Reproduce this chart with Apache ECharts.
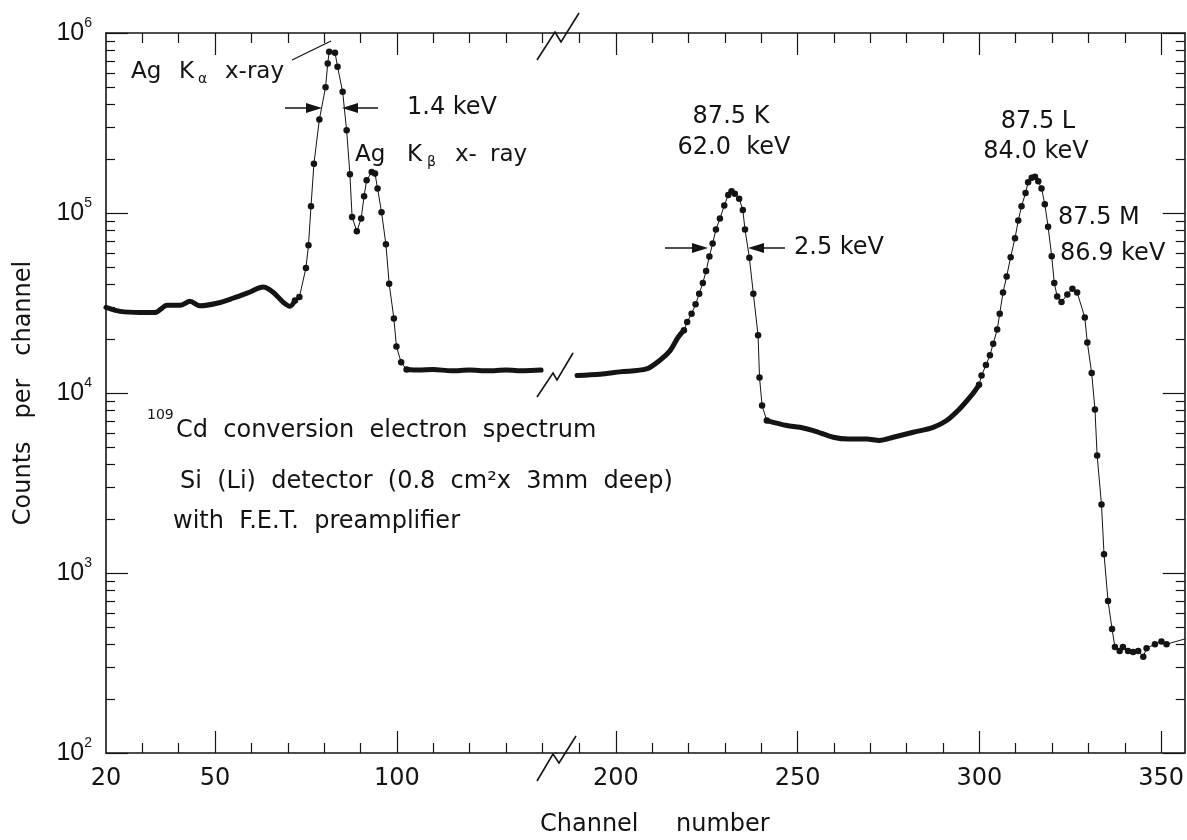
<!DOCTYPE html>
<html>
<head>
<meta charset="utf-8">
<script src="https://cdn.jsdelivr.net/npm/echarts@6.0.0/dist/echarts.min.js"></script>
<style>
html, body { margin: 0; padding: 0; background: #fff; }
#chart { width: 1187px; height: 840px; }
</style>
</head>
<body>
<div id="chart"></div>
<script>
// [channel number, counts per channel]
const agLowBase = [[20, 29900], [23.9, 28400], [29.4, 28000], [33.5, 28000], [36.8, 30700], [40.4, 30700], [43.1, 32300], [45.9, 30500], [50.5, 31500], [54.9, 33600], [59.6, 36400], [63.2, 38800], [65.9, 36400], [68.7, 32000], [70.6, 30300], [72.0, 32700]];
const agXrayPeaks = [[72.0, 32700], [73.2, 34100], [75.0, 49500], [75.7, 66200], [76.4, 109000], [77.2, 188000], [78.7, 331000], [80.4, 499000], [81.0, 678000], [81.4, 787000], [83.0, 777000], [83.7, 650000], [85.1, 471000], [86.2, 288000], [87.1, 164000], [87.7, 95100], [89.0, 79100], [90.2, 93100], [91.0, 124000], [91.7, 152000], [93.1, 169000], [94.0, 166000], [94.7, 137000], [95.8, 101000], [97.0, 67000], [97.9, 40500], [99.2, 25900], [99.9, 18100], [101.2, 14800], [102.7, 13500]];
const agFlat = [[102.7, 13500], [106, 13400], [110, 13500], [115, 13300], [120, 13400], [125, 13300], [130, 13400], [135, 13300], [139.7, 13400]];

const kLowBase = [[189.3, 12500], [195.6, 12700], [201.1, 13100], [208.4, 13600], [212.1, 15200], [214.9, 17200], [217.1, 20400], [218.7, 22300]];
const kLinePeak = [[218.7, 22300], [219.6, 24800], [220.8, 27600], [221.9, 31100], [222.9, 35600], [223.9, 40900], [224.8, 47600], [225.7, 57400], [226.6, 67600], [227.5, 80900], [228.6, 93100], [229.8, 110000], [230.9, 126000], [231.8, 132000], [232.7, 128000], [233.9, 120000], [234.9, 104000], [235.5, 80900], [236.7, 56500], [237.8, 35600], [239.1, 20900], [239.5, 12200], [240.2, 8510], [241.5, 7030]];
const kValley = [[241.5, 7030], [247.0, 6600], [250.6, 6450], [254.3, 6180], [259.8, 5680], [264.0, 5550], [269.0, 5560], [272.5, 5450], [276.3, 5680], [281.8, 6050], [287.3, 6450], [291.0, 7030], [294.6, 8170], [297.4, 9480], [298.8, 10300], [299.9, 11100]];
const lmLinePeaks = [[299.9, 11100], [300.6, 12500], [301.8, 14300], [302.9, 16200], [303.8, 18800], [304.9, 22500], [305.6, 27600], [306.5, 36200], [307.5, 44400], [308.6, 56800], [309.8, 72500], [310.7, 90800], [311.6, 109000], [312.7, 129000], [313.4, 148000], [314.4, 157000], [315.3, 159000], [316.2, 150000], [317.1, 137000], [318.0, 112000], [318.9, 84000], [319.9, 57500], [320.6, 40900], [321.4, 34400], [322.6, 32000], [324.2, 35300], [325.6, 37900], [326.9, 36200], [329.0, 26300], [329.7, 19100], [330.9, 12900], [331.8, 8110], [332.4, 4500], [333.6, 2400], [334.3, 1270], [335.4, 698], [336.5, 489], [337.3, 388], [338.6, 369], [339.5, 388], [340.9, 369], [342.3, 364], [343.7, 369], [345.1, 343], [346.0, 382], [348.3, 402], [350.1, 417], [351.5, 402]];
const lmTail = [[351.5, 402], [356.5, 430]];

// axis ranges either side of the break, and ticks
const leftRange = [20, 143.8];
const rightRange = [183.5, 356.5];
const leftTicks = [30, 40, 60, 70, 80, 90, 110, 120, 130, 140];
const leftMajorTicks = [50, 100];
const leftLabels = [20, 50, 100];
const rightTicks = [190, 210, 220, 230, 240, 260, 270, 280, 290, 310, 320, 330, 340];
const rightMajorTicks = [200, 250, 300, 350];
const rightLabels = [200, 250, 300, 350];
const decades = [100, 1000, 10000, 100000, 1000000];
const minorY = [200, 300, 400, 500, 600, 700, 800, 900,
  2000, 3000, 4000, 5000, 6000, 7000, 8000, 9000,
  20000, 30000, 40000, 50000, 60000, 70000, 80000, 90000,
  200000, 300000, 400000, 500000, 600000, 700000, 800000, 900000];

const FONT = '"DejaVu Sans", sans-serif';
const NUM_FONT = '"Liberation Sans", Arial, sans-serif';
const INK = '#141414';
const PX_PER_CH = 3.635;
const TOP = 33, PLOT_H = 720, LEFT = 106;
const leftW = (leftRange[1] - leftRange[0]) * PX_PER_CH;
const rightW = (rightRange[1] - rightRange[0]) * PX_PER_CH;

function xAxesFor(grid, range, ticks, majors, labels) {
  const base = { gridIndex: grid, type: 'value', min: range[0], max: range[1], splitLine: { show: false } };
  const out = [];
  ['bottom', 'top'].forEach(pos => {
    out.push(Object.assign({}, base, {
      position: pos,
      axisLine: { show: true, onZero: false, lineStyle: { color: INK, width: 1.6 } },
      axisTick: { show: true, inside: true, length: 10, customValues: ticks, lineStyle: { color: INK, width: 1.2 } },
      axisLabel: pos === 'bottom'
        ? { show: true, customValues: labels, margin: 14, color: INK, fontSize: 24, fontFamily: FONT }
        : { show: false }
    }));
    out.push(Object.assign({}, base, {
      position: pos,
      axisLine: { show: false },
      axisTick: { show: true, inside: true, length: 22, customValues: majors, lineStyle: { color: INK, width: 1.2 } },
      axisLabel: { show: false }
    }));
  });
  return out;
}

function yAxesFor(grid, pos, withLabels) {
  const base = { gridIndex: grid, type: 'log', logBase: 10, min: 100, max: 1000000, position: pos, splitLine: { show: false } };
  return [
    Object.assign({}, base, {
      axisLine: { show: true, lineStyle: { color: INK, width: 1.6 } },
      axisTick: { show: true, inside: true, length: 22, customValues: decades, lineStyle: { color: INK, width: 1.2 } },
      axisLabel: withLabels ? {
        show: true, customValues: decades, margin: 14,
        formatter: v => '{b|10}{e|' + Math.round(Math.log10(v)) + '}',
        rich: {
          b: { fontSize: 25, fontFamily: NUM_FONT, color: INK, lineHeight: 34 },
          e: { fontSize: 14, fontFamily: NUM_FONT, color: INK, verticalAlign: 'top' }
        }
      } : { show: false },
      name: withLabels ? 'Counts   per   channel' : '',
      nameLocation: 'middle', nameGap: 70, nameRotate: 90,
      nameTextStyle: { fontSize: 24, fontFamily: FONT, color: INK }
    }),
    Object.assign({}, base, {
      axisLine: { show: false },
      axisTick: { show: true, inside: true, length: 9, customValues: minorY, lineStyle: { color: INK, width: 1.2 } },
      axisLabel: { show: false }
    })
  ];
}

function dense(data, xi, yi) {
  return { type: 'line', xAxisIndex: xi, yAxisIndex: yi, data: data, symbol: 'none', smooth: 0.3,
    lineStyle: { color: INK, width: 5, cap: 'round', join: 'round' }, silent: true, z: 3 };
}
function dotted(data, xi, yi) {
  return { type: 'line', xAxisIndex: xi, yAxisIndex: yi, data: data, symbol: 'circle', symbolSize: 6.5,
    showAllSymbol: true, itemStyle: { color: INK }, lineStyle: { color: INK, width: 1 }, silent: true, z: 4 };
}

function text(str, x, y, opts) {
  return { type: 'text', x: x, y: y, silent: true, z: 50,
    style: Object.assign({ text: str, fill: INK, font: '23px ' + FONT, align: 'left', verticalAlign: 'middle',
      textAlign: 'left', textVerticalAlign: 'middle' }, opts || {}) };
}
function centred(str, x, y) {
  return text(str, x, y, { font: '24px ' + FONT, align: 'center', textAlign: 'center' });
}
function small(str, x, y) {
  return text(str, x, y, { font: '14px ' + FONT });
}
function arrow(x1, x2, y) {
  const dir = x2 > x1 ? 1 : -1;
  return [
    { type: 'line', silent: true, z: 50, shape: { x1: x1, y1: y, x2: x2 - dir * 10, y2: y }, style: { stroke: INK, lineWidth: 1.5 } },
    { type: 'polygon', silent: true, z: 50, shape: { points: [[x2, y], [x2 - dir * 16, y - 5], [x2 - dir * 16, y + 5]] }, style: { fill: INK } }
  ];
}
function zigzag(pts) {
  return { type: 'polyline', silent: true, z: 60, shape: { points: pts }, style: { stroke: INK, lineWidth: 1.6, fill: null } };
}

const chart = echarts.init(document.getElementById('chart'));
chart.setOption({
  backgroundColor: '#ffffff',
  animation: false,
  grid: [
    { left: LEFT, top: TOP, width: leftW, height: PLOT_H },
    { left: LEFT + leftW, top: TOP, width: rightW, height: PLOT_H }
  ],
  xAxis: xAxesFor(0, leftRange, leftTicks, leftMajorTicks, leftLabels)
    .concat(xAxesFor(1, rightRange, rightTicks, rightMajorTicks, rightLabels)),
  yAxis: yAxesFor(0, 'left', true).concat(yAxesFor(1, 'right', false)),
  series: [
    dense(agLowBase, 0, 0),
    dotted(agXrayPeaks, 0, 0),
    dense(agFlat, 0, 0),
    dense(kLowBase, 4, 2),
    dotted(kLinePeak, 4, 2),
    dense(kValley, 4, 2),
    dotted(lmLinePeaks, 4, 2),
    { type: 'line', xAxisIndex: 4, yAxisIndex: 2, data: lmTail, symbol: 'none', lineStyle: { color: INK, width: 1 }, silent: true }
  ],
  graphic: [
    // Ag K x-ray labels, pointer and width marker
    text('Ag', 131, 72), text('K', 179, 72), small('α', 198, 79), text('x-ray', 225, 72),
    { type: 'line', silent: true, z: 50, shape: { x1: 292, y1: 60, x2: 331, y2: 41 }, style: { stroke: INK, lineWidth: 1.3 } },
    ...arrow(285, 322, 108),
    ...arrow(378, 342, 108),
    text('1.4 keV', 407, 108, { font: '24px ' + FONT }),
    text('Ag', 355, 155), text('K', 407, 155), small('β', 427, 162), text('x-', 455, 155), text('ray', 490, 155),
    // 87.5 keV gamma conversion lines
    centred('87.5 K', 731, 117),
    centred('62.0  keV', 734, 148),
    ...arrow(665, 708, 248),
    ...arrow(785, 748, 248),
    text('2.5 keV', 794, 248, { font: '24px ' + FONT }),
    centred('87.5 L', 1038, 122),
    centred('84.0 keV', 1036, 152),
    text('87.5 M', 1058, 218, { font: '24px ' + FONT }),
    text('86.9 keV', 1060, 254, { font: '24px ' + FONT }),
    // description block
    small('109', 147, 415),
    text('Cd  conversion  electron  spectrum', 176, 431, { font: '24px ' + FONT }),
    text('Si  (Li)  detector  (0.8  cm²x  3mm  deep)', 180, 482, { font: '24px ' + FONT }),
    text('with  F.E.T.  preamplifier', 173, 522, { font: '24px ' + FONT }),
    // x axis title
    text('Channel', 540, 825, { font: '24px ' + FONT }),
    text('number', 676, 825, { font: '24px ' + FONT }),
    // axis break marks
    zigzag([[537, 60], [555, 32], [561, 42], [579, 13]]),
    zigzag([[537, 781], [553, 754], [559, 763], [576, 736]]),
    zigzag([[537, 397], [553, 373], [557, 380], [573, 353]])
  ]
});
</script>
</body>
</html>
